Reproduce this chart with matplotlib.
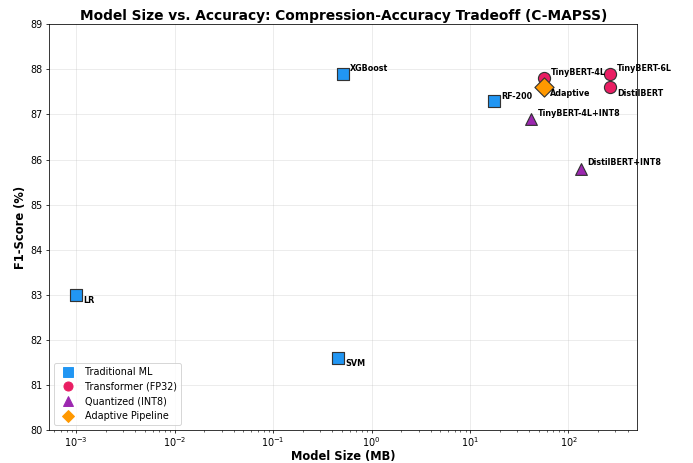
import matplotlib
matplotlib.use("Agg")
import matplotlib.pyplot as plt
from matplotlib.lines import Line2D

# Data
trad_names = ["LR", "SVM", "XGBoost", "RF-200"]
trad_size = [0.001, 0.46, 0.51, 17.7]
trad_f1 = [83.0, 81.6, 87.9, 87.3]

fp32_names = ["TinyBERT-4L", "TinyBERT-6L", "DistilBERT"]
fp32_size = [56, 265, 265]
fp32_f1 = [87.8, 87.9, 87.6]

int8_names = ["TinyBERT-4L+INT8", "DistilBERT+INT8"]
int8_size = [42, 134]
int8_f1 = [86.9, 85.8]

adapt_names = ["Adaptive"]
adapt_size = [56]
adapt_f1 = [87.6]

# label offsets in points (dx, dy)
offsets = {
    "LR": (7, -6), "SVM": (7, -6), "XGBoost": (7, 6), "RF-200": (7, 5),
    "TinyBERT-4L": (7, 6), "TinyBERT-6L": (7, 6), "DistilBERT": (7, -6),
    "TinyBERT-4L+INT8": (7, 6), "DistilBERT+INT8": (7, 6), "Adaptive": (7, -6),
}

DPI = 69
fig, ax = plt.subplots(figsize=(693 / DPI, 463 / DPI), dpi=DPI)

groups = [
    (trad_names, trad_size, trad_f1, "#2196F3", "s", 150, "Traditional ML"),
    (fp32_names, fp32_size, fp32_f1, "#E91E63", "o", 160, "Transformer (FP32)"),
    (int8_names, int8_size, int8_f1, "#9C27B0", "^", 150, "Quantized (INT8)"),
    (adapt_names, adapt_size, adapt_f1, "#FF9800", "D", 200, "Adaptive Pipeline"),
]

handles = []
for names, xs, ys, color, marker, s, label in groups:
    ax.scatter(xs, ys, c=color, marker=marker, s=s, edgecolors="#333333",
               linewidths=1.2, zorder=3)
    for n, x, y in zip(names, xs, ys):
        dx, dy = offsets[n]
        ax.annotate(n, (x, y), xytext=(dx, dy), textcoords="offset points",
                    fontsize=8.4, fontweight="bold", va="center", ha="left")
    handles.append(Line2D([], [], linestyle="none", marker=marker, color=color,
                          markersize=9.5, label=label))

ax.set_xscale("log")
ax.set_ylim(80, 89)
ax.set_yticks(range(80, 90))
ax.grid(True, which="major", alpha=0.3)
ax.set_xlabel("Model Size (MB)", fontsize=12, fontweight="bold", labelpad=1)
ax.set_ylabel("F1-Score (%)", fontsize=12, fontweight="bold", labelpad=4)
ax.set_title("Model Size vs. Accuracy: Compression-Accuracy Tradeoff (C-MAPSS)",
             fontsize=14.3, fontweight="bold", pad=5)
ax.tick_params(labelsize=10)
ax.tick_params(axis="x", which="both", pad=2)

fig.subplots_adjust(left=0.0714, right=0.919, top=0.9475, bottom=0.0713)
ax.legend(handles=handles, loc="lower left", fontsize=10)
fig.savefig("out.png", dpi=DPI)
